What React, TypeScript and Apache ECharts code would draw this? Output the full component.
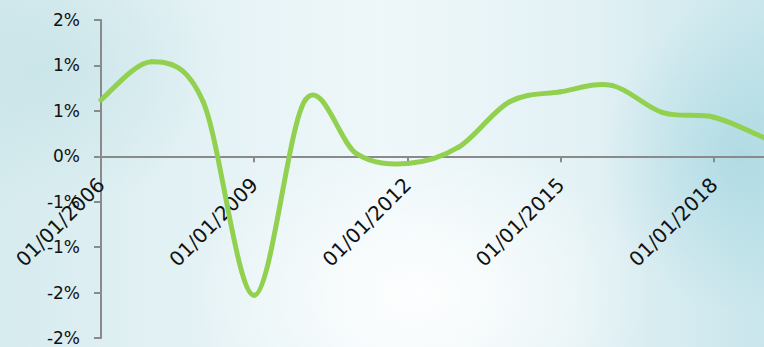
import React, { useEffect, useRef } from "react";
import * as echarts from "echarts";

const years = [2006, 2007, 2008, 2009, 2010, 2011, 2012, 2013, 2014, 2015, 2016, 2017, 2018, 2019];
const values = [0.62, 1.04, 0.6, -1.53, 0.62, 0.03, -0.08, 0.1, 0.6, 0.71, 0.78, 0.48, 0.43, 0.2];
const baseYear = 2006;
const tension = 1 / 6;
const yMin = -2;
const yMax = 1.5;

export default function App() {
  const ref = useRef<HTMLDivElement>(null);
  useEffect(() => {
    if (!ref.current) return;
    const chart = echarts.init(ref.current, undefined, { renderer: "svg" });
    const seriesData = years.map((y, i) => [y - baseYear, values[i]]);
    const gridTop = 20;
    const gridHeight = 318;
    const zeroOffset = -(gridHeight * (0 - yMin)) / (yMax - yMin);
    chart.setOption({
      animation: false,
      backgroundColor: "transparent",
      grid: { left: 101, top: gridTop, width: 664, height: gridHeight, containLabel: false, outerBoundsMode: "none" },
      xAxis: {
        type: "value",
        min: 0,
        max: 13,
        interval: 3,
        position: "bottom",
        offset: zeroOffset,
        axisLine: { show: true, onZero: false, lineStyle: { color: "#8a8a8a", width: 2 } },
        axisTick: { show: true, length: 6, lineStyle: { color: "#8a8a8a", width: 2 } },
        splitLine: { show: false },
        axisLabel: {
          rotate: 45,
          margin: 25,
          showMaxLabel: false,
          fontFamily: "DejaVu Sans",
          fontSize: 20,
          color: "#111",
          formatter: (v: number) => "01/01/" + (baseYear + v),
        },
      },
      yAxis: {
        type: "value",
        min: yMin,
        max: yMax,
        interval: 0.5,
        axisLine: { show: true, lineStyle: { color: "#8a8a8a", width: 2 } },
        axisTick: { show: true, length: 7, lineStyle: { color: "#8a8a8a", width: 2 } },
        splitLine: { show: false },
        axisLabel: {
          margin: 21,
          fontFamily: "DejaVu Sans",
          fontSize: 17,
          color: "#111",
          formatter: (v: number) => (v < 0 ? "-" : "") + Math.round(Math.abs(v)) + "%",
        },
      },
      series: [
        {
          type: "custom",
          data: seriesData,
          encode: { x: 0, y: 1 },
          z: 1,
          renderItem: (params: any, api: any) => {
            const i = params.dataIndex;
            const n = seriesData.length;
            if (i >= n - 1) return null;
            const p = (k: number) => {
              const kk = Math.max(0, Math.min(n - 1, k));
              return api.coord(seriesData[kk]);
            };
            const p0 = p(i - 1);
            const p1 = p(i);
            const p2 = p(i + 1);
            const p3 = p(i + 2);
            return {
              type: "bezierCurve",
              shape: {
                x1: p1[0],
                y1: p1[1],
                x2: p2[0],
                y2: p2[1],
                cpx1: p1[0] + (p2[0] - p0[0]) * tension,
                cpy1: p1[1] + (p2[1] - p0[1]) * tension,
                cpx2: p2[0] - (p3[0] - p1[0]) * tension,
                cpy2: p2[1] - (p3[1] - p1[1]) * tension,
              },
              style: { stroke: "#92d050", lineWidth: 5, fill: null, lineCap: "round" },
            };
          },
        },
      ],
    });
    return () => chart.dispose();
  }, []);
  return (
    <div
      style={{
        position: "fixed",
        left: 0,
        top: 0,
        width: 764,
        height: 347,
        background:
          "radial-gradient(ellipse 30% 45% at 55% 85%, rgba(255,255,255,0.9), rgba(255,255,255,0)), radial-gradient(ellipse 18% 45% at 97% 45%, rgba(165,214,224,0.7), rgba(165,214,224,0)), radial-gradient(ellipse 25% 40% at 5% 20%, rgba(196,226,230,0.7), rgba(196,226,230,0)), linear-gradient(90deg, #d6ebee 0%, #e6f3f6 30%, #eef7fa 50%, #e4f2f5 75%, #c9e6ec 100%)",
      }}
    >
      <div ref={ref} style={{ width: 764, height: 347 }} />
    </div>
  );
}
